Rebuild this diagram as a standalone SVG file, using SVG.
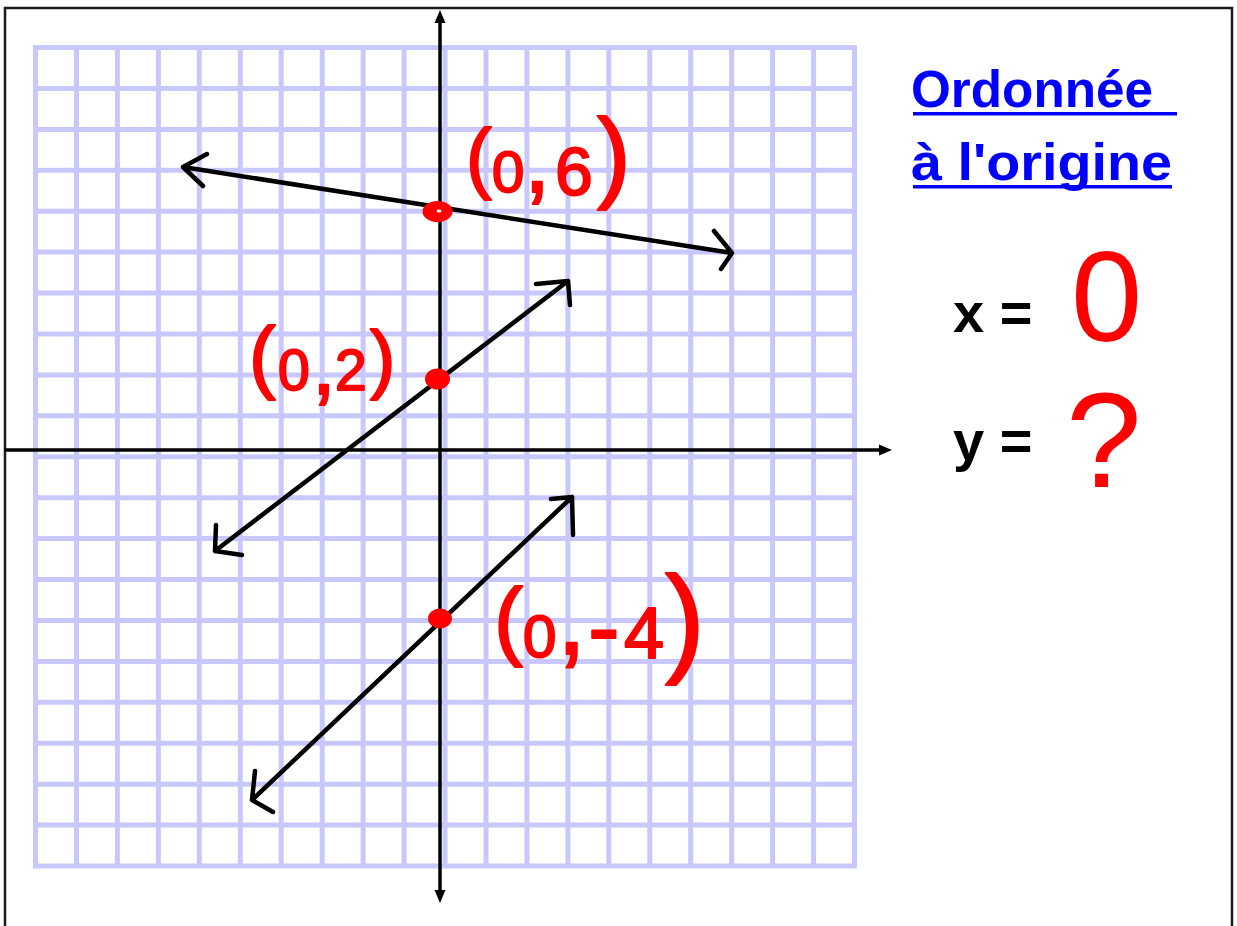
<svg xmlns="http://www.w3.org/2000/svg" width="1237" height="926" viewBox="0 0 1237 926">
<style>
.grid{stroke:#c8c8ff;stroke-width:5;fill:none}
.axis{stroke:#000;stroke-width:3.5;fill:none}
.head{fill:#000}
.sketch{stroke:#000;stroke-width:4.5;fill:none;stroke-linecap:round;stroke-linejoin:round}
.hand{font-family:"Liberation Sans",Arial,sans-serif;fill:#ff0000;stroke:#ff0000;stroke-width:2;stroke-linejoin:round}
.big{font-family:"Liberation Sans",Arial,sans-serif;fill:#ff0000}
.title{font-family:"Liberation Sans",Arial,sans-serif;font-weight:bold;font-size:52px;fill:#0000ff}
.eq{font-family:"Liberation Sans",Arial,sans-serif;font-weight:bold;font-size:56px;fill:#000}
.dot{fill:#ff0000}
</style>
<rect width="1237" height="926" fill="#fff"/>
<rect x="5" y="8" width="1227" height="940" fill="none" stroke="#1a1a1a" stroke-width="2.5"/>
<g id="grid">
<path class="grid" d="M35.5,45V868.5 M76.5,45V868.5 M117.4,45V868.5 M158.4,45V868.5 M199.3,45V868.5 M240.3,45V868.5 M281.2,45V868.5 M322.2,45V868.5 M363.1,45V868.5 M404.1,45V868.5 M445,45V868.5 M486,45V868.5 M526.9,45V868.5 M567.9,45V868.5 M608.8,45V868.5 M649.8,45V868.5 M690.7,45V868.5 M731.7,45V868.5 M772.6,45V868.5 M813.6,45V868.5 M854.5,45V868.5
M33,47.5H857 M33,88.4H857 M33,129.4H857 M33,170.3H857 M33,211.2H857 M33,252.1H857 M33,293.1H857 M33,334H857 M33,374.9H857 M33,415.8H857 M33,456.8H857 M33,497.7H857 M33,538.6H857 M33,579.5H857 M33,620.5H857 M33,661.4H857 M33,702.3H857 M33,743.2H857 M33,784.2H857 M33,825.1H857 M33,866H857"/>
</g>
<g id="axes">
<line class="axis" x1="440" y1="891" x2="440" y2="22"/>
<polygon class="head" points="440,10 434.5,23 445.5,23"/>
<polygon class="head" points="440,903 434.5,890 445.5,890"/>
<line class="axis" x1="5" y1="450" x2="880" y2="450"/>
<polygon class="head" points="892,450 879,444.5 879,455.5"/>
</g>
<g id="connectors">
<path class="sketch" d="M183,167 L732,253 M207,154 L183,167 L203,186 M714,231 L732,253 L721,269"/>
<path class="sketch" d="M215,551 L568,281 M216,525 L215,551 L242,555 M536,284 L568,281 L570,305"/>
<path class="sketch" d="M252,800 L572,497 M255,771 L252,800 L273,812 M551,499 L572,497 L573,535"/>
</g>
<g id="point-0-6">
<ellipse class="dot" cx="437.5" cy="211.5" rx="15" ry="10.5"/>
<ellipse cx="439" cy="211" rx="2.5" ry="1.6" fill="#fff"/>
<text class="hand"><tspan x="466" y="184" font-size="77">(</tspan><tspan x="492" y="192" font-size="58">0</tspan><tspan x="524" y="192" font-size="95">,</tspan><tspan x="555" y="195" font-size="68">6</tspan><tspan x="597" y="189" font-size="101">)</tspan></text>
</g>
<g id="point-0-2">
<ellipse class="dot" cx="437.5" cy="379" rx="12.5" ry="10.5"/>
<text class="hand"><tspan x="249" y="383" font-size="80">(</tspan><tspan x="278" y="390" font-size="57">0</tspan><tspan x="312" y="394" font-size="85">,</tspan><tspan x="335" y="390" font-size="57">2</tspan><tspan x="370" y="384" font-size="76">)</tspan></text>
</g>
<g id="point-0-m4">
<ellipse class="dot" cx="440" cy="618.5" rx="12" ry="10"/>
<text class="hand"><tspan x="494" y="649" font-size="87">(</tspan><tspan x="523" y="657" font-size="60">0</tspan><tspan x="557" y="654" font-size="105">,</tspan><tspan x="588" y="659" font-size="95">-</tspan><tspan x="624" y="658" font-size="72">4</tspan><tspan x="665" y="660" font-size="120">)</tspan></text>
</g>
<g id="title">
<text class="title" x="911" y="107" textLength="242" lengthAdjust="spacingAndGlyphs">Ordonnée</text>
<rect x="913" y="112" width="264" height="3.5" fill="#0000ff"/>
<text class="title" x="911" y="180" textLength="261" lengthAdjust="spacingAndGlyphs">à l'origine</text>
<rect x="913" y="185" width="259" height="3.5" fill="#0000ff"/>
</g>
<g id="equations">
<text class="eq" x="953" y="332">x =</text>
<text class="big" x="1071" y="341" font-size="128">0</text>
<text class="eq" x="953" y="460">y =</text>
<text class="big" x="1066" y="487" font-size="136">?</text>
</g>
</svg>
